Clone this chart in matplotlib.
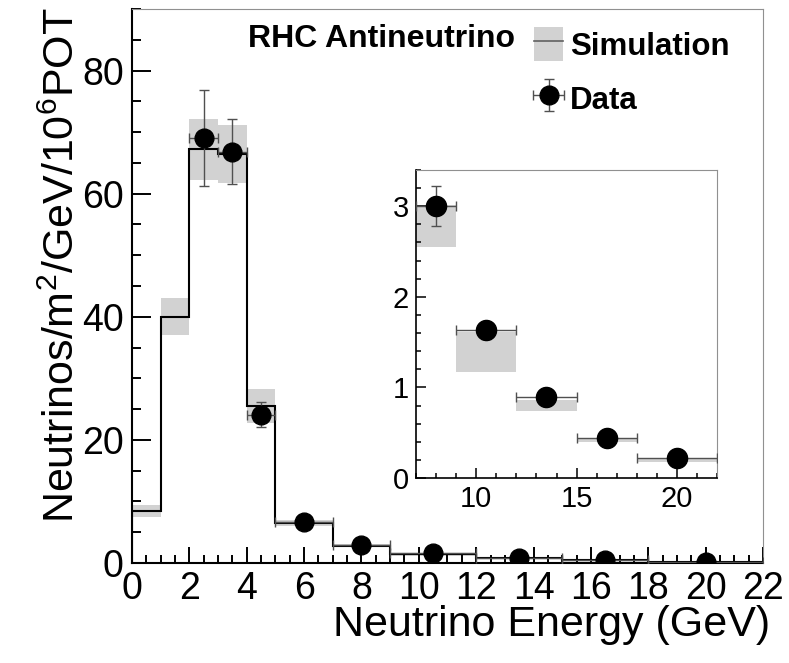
import matplotlib
matplotlib.use('Agg')
import matplotlib.pyplot as plt
from matplotlib.patches import Patch
from matplotlib.lines import Line2D
from matplotlib.ticker import MultipleLocator
import numpy as np

plt.rcParams['font.family'] = ['Liberation Sans', 'DejaVu Sans']
plt.rcParams['mathtext.default'] = 'regular'

# simulation histogram (bin edges, central values, band half-widths)
sim_edges = [0, 1, 2, 3, 4, 5, 7, 9, 12, 15, 18, 22]
sim_vals = [8.5, 40.0, 67.2, 66.5, 25.5, 6.5, 2.78, 1.39, 0.80, 0.42, 0.195]
sim_err = [1.0, 3.0, 5.0, 4.7, 2.8, 0.5, 0.23, 0.22, 0.065, 0.025, 0.015]

# data points (bins and values)
data_lo = [2, 3, 4, 5, 7, 9, 12, 15, 18]
data_hi = [3, 4, 5, 7, 9, 12, 15, 18, 22]
data_vals = [69.0, 66.8, 24.1, 6.6, 3.0, 1.63, 0.89, 0.44, 0.22]
data_err = [7.8, 5.3, 2.0, 0.5, 0.22, 0.09, 0.03, 0.02, 0.015]

x_ticks = list(range(0, 23, 2))
y_ticks = [0, 20, 40, 60, 80]
inset_x_ticks = [10, 15, 20]
inset_y_ticks = [0, 1, 2, 3]

band_col = '#d2d2d2'
err_col = '#505050'

edges = np.array(sim_edges, dtype=float)
sv = np.array(sim_vals)
se = np.array(sim_err)
lo = np.array(data_lo, dtype=float)
hi = np.array(data_hi, dtype=float)
dx = (lo + hi) / 2
dxe = (hi - lo) / 2
dv = np.array(data_vals)
de = np.array(data_err)

fig = plt.figure(figsize=(7.89, 6.63), dpi=100)
ax = fig.add_axes([0.1673, 0.1508, 0.7997, 0.8356])

ax.stairs(sv + se, edges, baseline=sv - se, fill=True, color=band_col, lw=0, zorder=1)
ax.stairs(sv, edges, baseline=0, color='black', lw=1.5, zorder=2)
cont = ax.errorbar(dx, dv, xerr=dxe, yerr=de, fmt='o', color='black', ms=13.5,
                   ecolor=err_col, elinewidth=1.0, capsize=3.5, capthick=1.0, zorder=3)

ax.set_xlim(0, 22)
ax.set_ylim(0, 90)
ax.set_xticks(x_ticks)
ax.set_yticks(y_ticks)
ax.xaxis.set_minor_locator(MultipleLocator(0.5))
ax.yaxis.set_minor_locator(MultipleLocator(5))
ax.tick_params(axis='both', which='both', direction='in', top=False, right=False,
               width=1.4, labelsize=27)
ax.tick_params(axis='y', which='major', length=14, pad=6)
ax.tick_params(axis='y', which='minor', length=6.5)
ax.tick_params(axis='x', which='major', length=11.5, pad=6)
ax.tick_params(axis='x', which='minor', length=5.5)
for s in ['left', 'bottom']:
    ax.spines[s].set_linewidth(1.5)
for s in ['top', 'right']:
    ax.spines[s].set_linewidth(0.8)
    ax.spines[s].set_color('#909090')

ax.set_xlabel('Neutrino Energy (GeV)', fontsize=31)
ax.xaxis.set_label_coords(0.665, -0.075)
ax.set_ylabel('Neutrinos/m$^{2}$/GeV/10$^{6}$POT', fontsize=31)
ax.yaxis.set_label_coords(-0.078, 0.538)

ax.text(0.184, 0.946, 'RHC Antineutrino', transform=ax.transAxes, fontsize=23,
        fontweight='bold', ha='left', va='center')
sim_handle = (Patch(facecolor=band_col, edgecolor='none'), Line2D([], [], color='#606060', lw=1.2))
leg = ax.legend([sim_handle, cont], ['Simulation', 'Data'], loc='upper left',
                bbox_to_anchor=(0.612, 0.995), frameon=False, borderpad=0,
                handlelength=0.95, handleheight=1.3, handletextpad=0.2,
                labelspacing=0.62, prop={'size': 22.5, 'weight': 'bold'})

# inset
ins = fig.add_axes([0.5273, 0.279, 0.3815, 0.4646])
m = edges[:-1] >= 7
ins.stairs((sv + se)[m], edges[np.r_[m, True]], baseline=(sv - se)[m], fill=True,
           color=band_col, lw=0, zorder=1)
k = lo >= 7
ins.errorbar(dx[k], dv[k], xerr=dxe[k], yerr=de[k], fmt='o', color='black', ms=14.5,
             ecolor=err_col, elinewidth=1.0, capsize=3.5, capthick=1.0, zorder=3)
ins.set_xlim(7, 22)
ins.set_ylim(0, 3.4)
ins.set_xticks(inset_x_ticks)
ins.set_yticks(inset_y_ticks)
ins.xaxis.set_minor_locator(MultipleLocator(1))
ins.yaxis.set_minor_locator(MultipleLocator(0.2))
ins.tick_params(axis='both', which='both', direction='in', top=False, right=False,
                width=1.1, labelsize=21)
ins.tick_params(axis='both', which='major', length=7, pad=5)
ins.tick_params(axis='both', which='minor', length=3.5)
for s in ['left', 'bottom']:
    ins.spines[s].set_linewidth(1.2)
for s in ['top', 'right']:
    ins.spines[s].set_linewidth(0.8)
    ins.spines[s].set_color('#909090')

fig.savefig('out.png', dpi=100)
